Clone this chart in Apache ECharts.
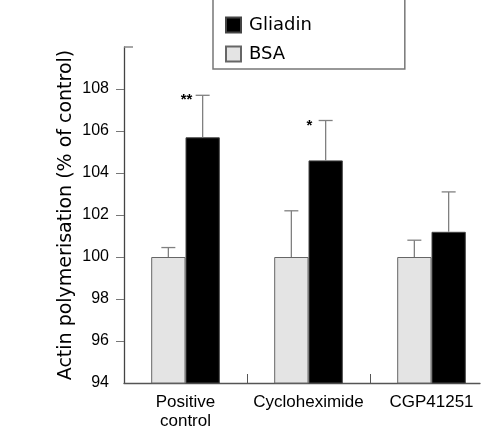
<!DOCTYPE html>
<html><head><meta charset="utf-8">
<script src="https://cdn.jsdelivr.net/npm/echarts@6/dist/echarts.min.js"></script>
<style>html,body{margin:0;padding:0;background:#fff}#c{width:495px;height:433px}</style>
</head><body><div id="c"></div>
<script>
const categories = ['Positive\ncontrol', 'Cycloheximide', 'CGP41251'];
const bsaValues = [100.0, 100.0, 100.0];
const bsaErrors = [0.45, 2.2, 0.8];
const gliadinValues = [105.7, 104.6, 101.2];
const gliadinErrors = [2.0, 1.9, 1.9];
const significance = ['**', '*', ''];
const yTicks = [96, 98, 100, 102, 104, 106, 108];
const yLabels = [94, 96, 98, 100, 102, 104, 106, 108];

const FONT = 'Liberation Sans';
const BAR_W = 34.3;
const chart = echarts.init(document.getElementById('c'), null, {renderer: 'canvas'});

function errorSeries(name, values, errors, side, marks) {
  return {
    type: 'custom', name: name + ' err', xAxisIndex: 0, yAxisIndex: 0, z: 5,
    data: values.map((v, i) => [i, v, errors[i]]),
    renderItem: function (params, api) {
      const i = api.value(0), v = api.value(1), e = api.value(2);
      const base = api.coord([i, v]);
      const top = api.coord([i, v + e]);
      const x = base[0] + side * BAR_W / 2;
      const cap = 7;
      const children = [
        {type: 'line', shape: {x1: x, y1: base[1], x2: x, y2: top[1]}, style: {stroke: '#808080', lineWidth: 1.3}},
        {type: 'line', shape: {x1: x - cap, y1: top[1], x2: x + cap, y2: top[1]}, style: {stroke: '#808080', lineWidth: 1.3}}
      ];
      const m = marks ? marks[i] : '';
      if (m) {
        children.push({type: 'text', style: {text: m, x: base[0] + 1, y: top[1] + 5, align: 'center', verticalAlign: 'middle', font: 'bold 15px ' + FONT, fill: '#000'}});
      }
      return {type: 'group', children: children};
    }
  };
}

chart.setOption({
  animation: false,
  textStyle: {fontFamily: FONT},
  legend: {
    data: ['Gliadin', 'BSA'],
    orient: 'vertical', left: 213, top: -8,
    padding: [24, 93, 6, 12],
    itemWidth: 15, itemHeight: 15, itemGap: 11, icon: 'rect',
    borderColor: '#777', borderWidth: 1.5,
    textStyle: {fontFamily: 'DejaVu Sans', fontSize: 18, color: '#000', padding: [0, 0, 0, 3]}
  },
  grid: [
    {left: 124, right: 2, top: 47, bottom: 50},
    {left: 124, right: 15, top: 47, bottom: 50}
  ],
  xAxis: [
    {type: 'category', gridIndex: 0, data: categories,
     axisLine: {show: false}, axisTick: {show: false},
     axisLabel: {fontSize: 17, lineHeight: 19, color: '#000', margin: 10, fontFamily: FONT, interval: 0}},
    {type: 'value', gridIndex: 1, min: 0, max: 356 / 123,
     axisLine: {show: true, lineStyle: {color: '#555', width: 1.3}},
     axisTick: {show: true, inside: true, length: 9, customValues: [1, 2], lineStyle: {color: '#555'}},
     axisLabel: {show: false}, splitLine: {show: false}}
  ],
  yAxis: [
    {type: 'value', gridIndex: 0, min: 94, max: 110, interval: 2,
     name: 'Actin polymerisation (% of control)', nameLocation: 'middle', nameGap: 48,
     nameMoveOverlap: false,
     nameTextStyle: {fontSize: 19, color: '#000', fontFamily: 'DejaVu Sans'},
     axisLine: {show: true, lineStyle: {color: '#444', width: 1.3}},
     axisTick: {show: true, length: 8, customValues: yTicks, lineStyle: {color: '#777'}},
     axisLabel: {fontSize: 16, color: '#000', margin: 15, fontFamily: FONT, customValues: yLabels},
     splitLine: {show: false}},
    {type: 'value', gridIndex: 1, min: 94, max: 110,
     axisLine: {show: false},
     axisTick: {show: true, inside: true, length: 9, customValues: [110], lineStyle: {color: '#888', width: 1.5}},
     axisLabel: {show: false}, splitLine: {show: false}}
  ],
  series: [
    {name: 'BSA', type: 'bar', data: bsaValues, barWidth: BAR_W, barGap: '0%',
     itemStyle: {color: '#e4e4e4', borderColor: '#666', borderWidth: 1}},
    {name: 'Gliadin', type: 'bar', data: gliadinValues, barWidth: BAR_W, barGap: '0%',
     itemStyle: {color: '#000', borderColor: '#444', borderWidth: 1}},
    errorSeries('BSA', bsaValues, bsaErrors, -1, null),
    errorSeries('Gliadin', gliadinValues, gliadinErrors, 1, significance)
  ]
});
</script></body></html>
